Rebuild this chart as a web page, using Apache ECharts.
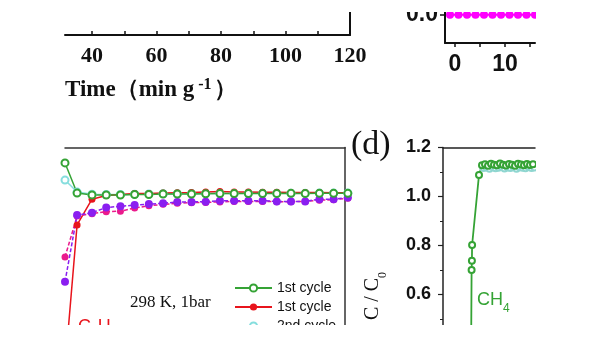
<!DOCTYPE html>
<html>
<head>
<meta charset="utf-8">
<script src="https://cdn.jsdelivr.net/npm/echarts@6/dist/echarts.min.js"></script>
<style>html,body{margin:0;padding:0;background:#fff;}#c{width:600px;height:338px;}</style>
</head>
<body>
<div id="c"></div>
<script>
// ---- top-left panel (time axis) ----
const timeLabels = [40, 60, 80, 100, 120];
const timeTicks = [40, 50, 60, 70, 80, 90, 100, 110, 120];
// ---- top-right panel ----
const trX = [-1, 0.7, 2.4, 4.1, 5.8, 7.5, 9.2, 10.9, 12.6, 14.3, 16];
const trY = [0, 0, 0, 0, 0, 0, 0, 0, 0, 0, 0];
const trXLabels = [0, 10];
const trXTicks = [0, 5, 10, 15];
const trYLabels = [0];
// ---- bottom-left panel (C2H4 breakthrough) ----
const blX = [0, 0.85, 1.9, 2.9, 3.9, 4.9, 5.9, 6.9, 7.9, 8.9, 9.9, 10.9, 11.9, 12.9, 13.9, 14.9, 15.9, 16.9, 17.9, 18.9, 19.9];
const green1st = [1.137, 1.014, 1.006, 1.006, 1.006, 1.008, 1.008, 1.010, 1.010, 1.010, 1.011, 1.012, 1.012, 1.012, 1.012, 1.012, 1.013, 1.012, 1.013, 1.013, 1.013];
const cyan2nd = [1.067, 1.018, 1.009, 1.008, 1.008, 1.009, 1.010, 1.011, 1.011, 1.012, 1.012, 1.013, 1.012, 1.013, 1.013, 1.013, 1.013, 1.013, 1.014, 1.014, 1.014];
const red1st = [0.30, 0.884, 0.989, 1.004, 1.008, 1.012, 1.012, 1.014, 1.015, 1.016, 1.018, 1.020, 1.018, 1.018, 1.017, 1.017, 1.016, 1.016, 1.016, 1.015, 1.015];
const magenta2nd = [0.753, 0.920, 0.930, 0.938, 0.940, 0.953, 0.962, 0.968, 0.972, 0.975, 0.976, 0.978, 0.980, 0.980, 0.980, 0.979, 0.979, 0.980, 0.985, 0.987, 0.993];
const purple3rd = [0.652, 0.924, 0.934, 0.955, 0.960, 0.965, 0.969, 0.972, 0.978, 0.978, 0.979, 0.983, 0.983, 0.983, 0.983, 0.980, 0.980, 0.980, 0.989, 0.989, 0.996];
// ---- panel (d) CH4 ----
const dX1 = [28.0, 28.6, 28.9, 29.1, 36.0, 39, 42, 45, 48, 51, 54, 57, 60, 63, 66, 69, 72, 75, 78, 81, 84, 87, 90];
const ch4First = [0.30, 0.700, 0.738, 0.802, 1.088, 1.128, 1.132, 1.126, 1.134, 1.130, 1.128, 1.135, 1.130, 1.127, 1.133, 1.130, 1.126, 1.134, 1.131, 1.128, 1.133, 1.129, 1.132];
const dX2 = [40.5, 43.5, 46.5, 49.5, 52.5, 55.5, 58.5, 61.5, 64.5, 67.5, 70.5, 73.5, 76.5, 79.5, 82.5, 85.5, 88.5, 91.5];
const ch4Second = [1.116, 1.118, 1.113, 1.120, 1.115, 1.117, 1.121, 1.114, 1.118, 1.116, 1.120, 1.113, 1.119, 1.117, 1.115, 1.121, 1.116, 1.118];
const dYRange = [0, 1.2];

const GREEN = '#35a335', RED = '#e8141c', CYAN = '#86dede', PINK = '#ea1a8c', PURPLE = '#8a1ef0', MAG = '#ff00ff';
const AX = '#111';
const pair = (xs, ys) => xs.map((x, i) => [x, ys[i]]);

const chart = echarts.init(document.getElementById('c'), null, {renderer: 'canvas'});
const noGridBounds = {outerBoundsMode: 'none', containLabel: false};
const option = {
  animation: false,
  backgroundColor: '#fff',
  grid: [
    Object.assign({left: 65, top: 12, width: 285, height: 23}, noGridBounds),
    Object.assign({left: 445, top: 12, width: 90, height: 31}, noGridBounds),
    Object.assign({left: 65, top: 147.5, width: 280, height: 294}, noGridBounds),
    Object.assign({left: 443, top: 147.5, width: 92, height: 294}, noGridBounds)
  ],
  xAxis: [
    {gridIndex: 0, type: 'value', min: 31.6, max: 120, position: 'bottom',
      axisLine: {show: true, lineStyle: {color: AX, width: 2}},
      axisTick: {show: true, inside: true, length: 4, customValues: timeTicks, lineStyle: {color: AX, width: 1.5}},
      axisLabel: {show: true, customValues: timeLabels, margin: 10, color: AX, fontFamily: 'Liberation Serif', fontWeight: 'bold', fontSize: 22},
      splitLine: {show: false}},
    {gridIndex: 1, type: 'value', min: -2, max: 16, position: 'bottom',
      axisLine: {show: true, onZero: false, lineStyle: {color: AX, width: 2}},
      axisTick: {show: true, inside: false, length: 4, customValues: trXTicks, lineStyle: {color: AX, width: 1.5}},
      axisLabel: {show: true, customValues: trXLabels, margin: 10, color: AX, fontFamily: 'Liberation Sans', fontWeight: 'bold', fontSize: 23},
      splitLine: {show: false}},
    {gridIndex: 2, type: 'value', min: 0, max: 19.7, show: false},
    {gridIndex: 2, type: 'value', min: 0, max: 19.7, position: 'top',
      axisLine: {show: true, onZero: false, lineStyle: {color: '#333', width: 1.5}},
      axisTick: {show: false}, axisLabel: {show: false}, splitLine: {show: false}},
    {gridIndex: 3, type: 'value', min: 0, max: 92, show: false},
    {gridIndex: 3, type: 'value', min: 0, max: 92, position: 'top',
      axisLine: {show: true, onZero: false, lineStyle: {color: '#222', width: 1.5}},
      axisTick: {show: false}, axisLabel: {show: false}, splitLine: {show: false}}
  ],
  yAxis: [
    {gridIndex: 0, type: 'value', min: 0, max: 1, position: 'right',
      axisLine: {show: true, onZero: false, lineStyle: {color: AX, width: 2}},
      axisTick: {show: false}, axisLabel: {show: false}, splitLine: {show: false}},
    {gridIndex: 1, type: 'value', min: -0.2, max: 0.02, position: 'left',
      axisLine: {show: true, onZero: false, lineStyle: {color: AX, width: 2}},
      axisTick: {show: true, inside: false, length: 5, customValues: trYLabels, lineStyle: {color: AX, width: 1.5}},
      axisLabel: {show: true, customValues: trYLabels, margin: 7, color: AX, fontFamily: 'Liberation Sans', fontWeight: 'bold', fontSize: 23,
        formatter: v => Number(v).toFixed(1)},
      splitLine: {show: false}},
    {gridIndex: 2, type: 'value', min: dYRange[0], max: dYRange[1], show: false},
    {gridIndex: 2, type: 'value', min: dYRange[0], max: dYRange[1], position: 'right',
      axisLine: {show: true, onZero: false, lineStyle: {color: '#333', width: 1.5}},
      axisTick: {show: false}, axisLabel: {show: false}, splitLine: {show: false}},
    {gridIndex: 3, type: 'value', min: dYRange[0], max: dYRange[1], interval: 0.2, position: 'left',
      axisLine: {show: true, onZero: false, lineStyle: {color: '#222', width: 1.5}},
      axisTick: {show: true, inside: false, length: 5, lineStyle: {color: '#222', width: 1.2}},
      minorTick: {show: true, splitNumber: 2, length: 3, lineStyle: {color: '#222', width: 1}},
      axisLabel: {show: true, margin: 12, color: AX, fontFamily: 'Liberation Sans', fontWeight: 'bold', fontSize: 18,
        formatter: v => Number(v).toFixed(1)},
      splitLine: {show: false}}
  ],
  legend: {
    show: true, orient: 'vertical', left: 234, top: 281,
    itemWidth: 37, itemHeight: 9, itemGap: 5,
    textStyle: {fontFamily: 'Liberation Sans', fontSize: 14, lineHeight: 14, color: '#111'},
    formatter: n => n.trim(),
    data: ['1st cycle', '1st cycle ', '2nd cycle'],
    backgroundColor: 'transparent', padding: 0
  },
  series: [
    {type: 'line', name: 'top', xAxisIndex: 1, yAxisIndex: 1, data: pair(trX, trY),
      symbol: 'circle', symbolSize: 8, itemStyle: {color: MAG}, lineStyle: {color: MAG, width: 2}, clip: false},
    {type: 'line', name: '2nd cycle', xAxisIndex: 2, yAxisIndex: 2, data: pair(blX, cyan2nd),
      symbol: 'emptyCircle', symbolSize: 7, itemStyle: {color: CYAN, borderWidth: 1.2}, lineStyle: {color: CYAN, width: 1.5}, clip: false},
    {type: 'line', name: '1st cycle ', xAxisIndex: 2, yAxisIndex: 2, data: pair(blX, red1st),
      symbol: 'circle', symbolSize: 7, itemStyle: {color: RED}, lineStyle: {color: RED, width: 1.5}, clip: true},
    {type: 'line', name: '2nd cycle C2H4', xAxisIndex: 2, yAxisIndex: 2, data: pair(blX, magenta2nd),
      symbol: 'circle', symbolSize: 7, itemStyle: {color: PINK}, lineStyle: {color: PINK, width: 1.5, type: [4, 2]}, clip: false},
    {type: 'line', name: '3rd cycle C2H4', xAxisIndex: 2, yAxisIndex: 2, data: pair(blX, purple3rd),
      symbol: 'circle', symbolSize: 8, itemStyle: {color: PURPLE}, lineStyle: {color: PURPLE, width: 1.5, type: [4, 2]}, clip: false},
    {type: 'line', name: '1st cycle', xAxisIndex: 2, yAxisIndex: 2, data: pair(blX, green1st),
      symbol: 'emptyCircle', symbolSize: 7, itemStyle: {color: GREEN, borderWidth: 1.2}, lineStyle: {color: GREEN, width: 1.5}, clip: false},
    {type: 'line', name: 'CH4 2nd', xAxisIndex: 4, yAxisIndex: 4, data: pair(dX2, ch4Second),
      symbol: 'emptyCircle', symbolSize: 6, itemStyle: {color: '#8fd6d0', borderWidth: 1}, lineStyle: {color: '#8fd6d0', width: 1}, clip: false},
    {type: 'line', name: 'CH4 1st', xAxisIndex: 4, yAxisIndex: 4, data: pair(dX1, ch4First),
      symbol: 'emptyCircle', symbolSize: 6, itemStyle: {color: GREEN, borderWidth: 1}, lineStyle: {color: GREEN, width: 1.8}, clip: true}
  ],
  graphic: [
    {type: 'text', left: 65, top: 77, z: 50, style: {
      text: '{a|Time（min g}{s|-1}{a|）}',
      rich: {
        a: {fontFamily: 'Liberation Serif', fontWeight: 'bold', fontSize: 23, fill: '#111', verticalAlign: 'bottom', lineHeight: 25},
        s: {fontFamily: 'Liberation Serif', fontWeight: 'bold', fontSize: 16, fill: '#111', verticalAlign: 'top', lineHeight: 16, padding: [0, 2, 0, 4]}
      }}},
    {type: 'text', left: 351, top: 128, z: 50, style: {text: '(d)', font: '34px "Liberation Serif"', fill: '#111'}},
    {type: 'text', left: 130, top: 294, z: 50, style: {text: '298 K, 1bar', font: '17px "Liberation Serif"', fill: '#111'}},
    {type: 'text', left: 477, top: 291, z: 50, style: {
      text: '{a|CH}{b|4}',
      rich: {a: {fontFamily: 'Liberation Sans', fontSize: 18, fill: GREEN, verticalAlign: 'top', lineHeight: 20},
             b: {fontFamily: 'Liberation Sans', fontSize: 12, fill: GREEN, verticalAlign: 'bottom', lineHeight: 24}}}},
    {type: 'text', left: 78, top: 318, z: 50, style: {
      text: '{a|C}{b|2}{a|H}{b|4}',
      rich: {a: {fontFamily: 'Liberation Sans', fontSize: 18, fill: RED, verticalAlign: 'top', lineHeight: 20},
             b: {fontFamily: 'Liberation Sans', fontSize: 12, fill: RED, verticalAlign: 'bottom', lineHeight: 24}}}},
    {type: 'text', z: 50, x: 376, y: 296, rotation: Math.PI / 2, style: {
      text: '{a|C / C}{b|0}', align: 'center', verticalAlign: 'middle',
      rich: {a: {fontFamily: 'Liberation Serif', fontSize: 20, fill: '#111', verticalAlign: 'top', lineHeight: 22},
             b: {fontFamily: 'Liberation Serif', fontSize: 12, fill: '#111', verticalAlign: 'bottom', lineHeight: 26}}}},
    {type: 'rect', z: 100, left: 0, top: 0, shape: {width: 600, height: 12}, style: {fill: '#fff'}},
    {type: 'rect', z: 100, left: 0, top: 325, shape: {width: 600, height: 13}, style: {fill: '#fff'}},
    {type: 'rect', z: 100, left: 536, top: 0, shape: {width: 64, height: 338}, style: {fill: '#fff'}}
  ]
};
chart.setOption(option);
</script>
</body>
</html>
